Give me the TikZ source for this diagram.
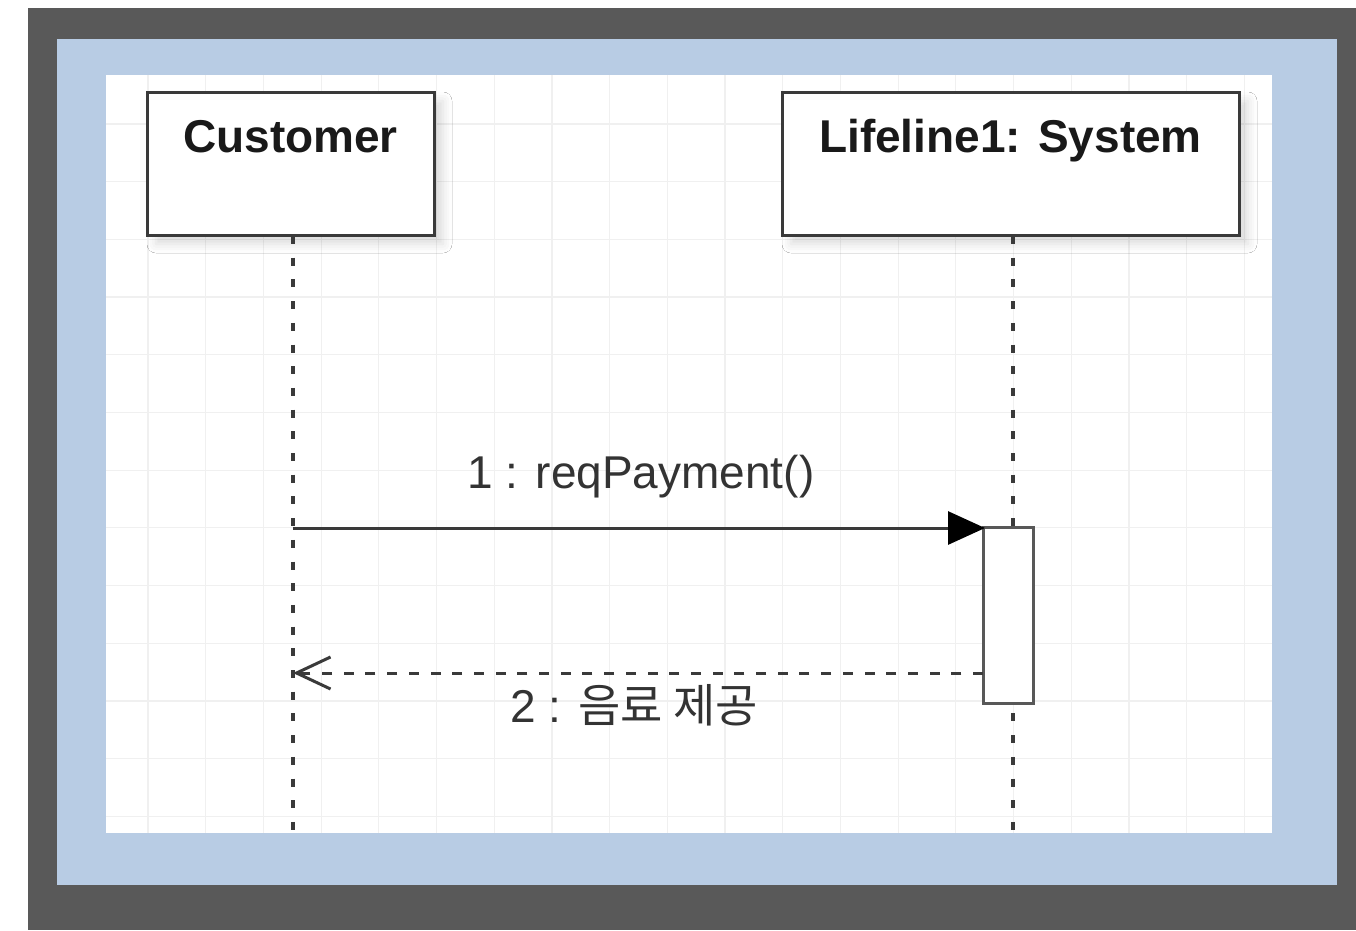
\documentclass[tikz,border=0pt]{standalone}
\usepackage{fontspec}
\setmainfont{Liberation Sans}
\newfontfamily\krfont{Noto Sans CJK KR}
\usetikzlibrary{arrows.meta,shadows.blur}
\definecolor{frame}{HTML}{595959}
\definecolor{mat}{HTML}{B8CCE4}
\definecolor{ink}{HTML}{333333}
\definecolor{edge}{HTML}{3A3A3A}
\tikzset{
  gridline/.style={line width=1.2pt, black!6},
  lifebox/.style={draw=edge, line width=3pt, fill=white, inner sep=0pt, outer sep=0pt,
    blur shadow={shadow xshift=9pt, shadow yshift=-9pt, shadow blur radius=9pt, shadow opacity=14}},
  title/.style={font=\fontsize{46}{50}\selectfont\bfseries, text=black!90, inner sep=0pt, anchor=base},
  lifeline/.style={draw=edge, line width=3.5pt, dash pattern=on 8pt off 13.7pt},
  actbox/.style={draw=edge!85, line width=3pt, fill=white, inner sep=0pt, outer sep=0pt},
  msg/.style={draw=edge, line width=3pt, -{Triangle[length=37pt,width=33pt,fill=black,color=black]}},
  ret/.style={draw=edge, line width=3pt, dash pattern=on 10pt off 11.7pt,
    -{Straight Barb[length=34pt,width=32pt,line width=3pt]}},
  msglabel/.style={font=\fontsize{46}{50}\selectfont, text=ink, inner sep=0pt, anchor=base},
}
\begin{document}
\begin{tikzpicture}[x=1pt,y=-1pt]
\useasboundingbox (0,0) rectangle (1356,930);
% framing layers
\fill[frame] (28,8) rectangle (1356,930);
\fill[mat] (57,39) rectangle (1337,885);
\fill[white] (106,75) rectangle (1272,833);
% faint canvas grid
\begin{scope}
  \clip (106,75) rectangle (1272,833);
  \foreach \i in {-1,...,20} \draw[gridline] ({148+57.7*\i},75) -- ++(0,758);
  \foreach \j in {-4,...,9} \draw[gridline] (106,{297+57.7*\j}) -- ++(1166,0);
\end{scope}

% lifeline heads
\node[lifebox, minimum width=287pt, minimum height=143pt] (cust) at (290.5,163.5) {};
\node[lifebox, minimum width=457pt, minimum height=143pt] (sys) at (1010.5,163.5) {};
\node[title] (custname) at (290.5,152) {Customer};
\node[title] (sysname) at (1010.5,152) {Lifeline1: System};

% lifelines
\coordinate (custtop) at (293,236);
\coordinate (custend) at (293,833);
\coordinate (systop) at (1013,236);
\coordinate (sysend) at (1013,833);
\draw[lifeline] (custtop) -- (custend);
\draw[lifeline] (systop) -- (sysend);

% activation bar
\node[actbox, minimum width=50pt, minimum height=176pt] (act) at (1008,615) {};

% messages
\coordinate (m1start) at (293,528);
\draw[msg] (m1start) -- ([xshift=2pt]m1start -| act.west);
\node[msglabel] (lbl1) at (641,488) {1 : reqPayment()};

\coordinate (m2start) at (983,673);
\coordinate (m2end) at (293,673);
\draw[ret] (m2start) -- (m2end);
\node[msglabel] (lbl2) at (634,722) {2 : {\krfont 음료 제공}};
\end{tikzpicture}
\end{document}
